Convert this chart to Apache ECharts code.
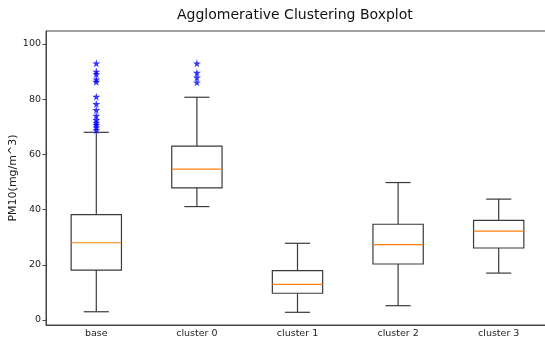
<!DOCTYPE html>
<html><head><meta charset="utf-8">
<script src="https://cdn.jsdelivr.net/npm/echarts@6/dist/echarts.min.js"></script>
<style>html,body{margin:0;padding:0;background:#fff}#c{width:545px;height:340px}</style>
</head><body><div id="c"></div>
<script>
var categories = ['base', 'cluster 0', 'cluster 1', 'cluster 2', 'cluster 3'];
var lowerWhisker = [3.0, 41.1, 2.8, 5.2, 17.0];
var q1 = [18.1, 47.9, 9.7, 20.3, 26.1];
var median = [28.0, 54.7, 12.9, 27.3, 32.2];
var q3 = [38.2, 63.0, 17.9, 34.7, 36.1];
var upperWhisker = [68.0, 80.7, 27.8, 49.8, 43.8];
var outliersBase = [93.0, 90.0, 89.1, 87.2, 86.3, 80.9, 78.3, 76.1, 74.0, 72.5, 71.5, 70.7, 69.8, 68.8];
var outliersCluster0 = [93.0, 89.6, 87.9, 86.1];
var yTicks = [0, 20, 40, 60, 80, 100];

var boxData = categories.map(function (c, i) {
  return [i, lowerWhisker[i], q1[i], median[i], q3[i], upperWhisker[i]];
});
var outlierData = [];
outliersBase.forEach(function (v) { outlierData.push([0, v]); });
outliersCluster0.forEach(function (v) { outlierData.push([1, v]); });

var lineColor = '#3a3a3a';
var chart = echarts.init(document.getElementById('c'), null, {renderer: 'canvas'});
chart.setOption({
  animation: false,
  title: {
    text: 'Agglomerative Clustering Boxplot',
    left: 172, top: 3,
    textStyle: {fontFamily: 'DejaVu Sans', fontSize: 14, fontWeight: 'normal', color: '#111'}
  },
  grid: {left: 46, right: -4, top: 31, bottom: 15, show: true, borderColor: '#444', borderWidth: 1,
         containLabel: false, outerBoundsMode: 'none'},
  xAxis: {
    type: 'category', data: categories, boundaryGap: true,
    axisLine: {onZero: false, lineStyle: {color: '#444'}},
    axisTick: {alignWithLabel: true, length: 3.5, lineStyle: {color: '#444'}},
    axisLabel: {fontFamily: 'DejaVu Sans', fontSize: 9.5, color: '#222', margin: 4},
    splitLine: {show: false}
  },
  yAxis: {
    type: 'value', min: -1.8, max: 104.7,
    name: 'PM10(mg/m^3)', nameLocation: 'middle', nameGap: 27, nameRotate: 90, nameMoveOverlap: false,
    nameTextStyle: {fontFamily: 'DejaVu Sans', fontSize: 11, color: '#222'},
    axisLine: {show: true, onZero: false, lineStyle: {color: '#444'}},
    axisTick: {show: true, length: 3.5, customValues: yTicks, lineStyle: {color: '#444'}},
    axisLabel: {fontFamily: 'DejaVu Sans', fontSize: 9.5, color: '#222', margin: 5, customValues: yTicks},
    splitLine: {show: false}
  },
  series: [
    {
      type: 'custom',
      data: boxData,
      encode: {x: 0, y: [1, 2, 3, 4, 5]},
      renderItem: function (params, api) {
        var idx = api.value(0);
        var band = api.size([1, 0])[0];
        var bw = band * 0.5, cw = band * 0.25;
        var pLo = api.coord([idx, api.value(1)]);
        var pQ1 = api.coord([idx, api.value(2)]);
        var pMed = api.coord([idx, api.value(3)]);
        var pQ3 = api.coord([idx, api.value(4)]);
        var pHi = api.coord([idx, api.value(5)]);
        var x = pQ1[0];
        var st = {stroke: lineColor, lineWidth: 1.2, fill: null};
        return {
          type: 'group',
          children: [
            {type: 'rect', shape: {x: x - bw / 2, y: pQ3[1], width: bw, height: pQ1[1] - pQ3[1]}, style: {stroke: lineColor, lineWidth: 1.2, fill: 'none'}},
            {type: 'line', shape: {x1: x, y1: pQ1[1], x2: x, y2: pLo[1]}, style: st},
            {type: 'line', shape: {x1: x, y1: pQ3[1], x2: x, y2: pHi[1]}, style: st},
            {type: 'line', shape: {x1: x - cw / 2, y1: pLo[1], x2: x + cw / 2, y2: pLo[1]}, style: st},
            {type: 'line', shape: {x1: x - cw / 2, y1: pHi[1], x2: x + cw / 2, y2: pHi[1]}, style: st},
            {type: 'line', shape: {x1: x - bw / 2, y1: pMed[1], x2: x + bw / 2, y2: pMed[1]}, style: {stroke: '#ff7f0e', lineWidth: 1.2}}
          ]
        };
      }
    },
    {
      type: 'scatter',
      data: outlierData,
      symbol: 'path://M50,0 L61,35 L98,35 L68,57 L79,91 L50,70 L21,91 L32,57 L2,35 L39,35 Z',
      symbolSize: 8,
      itemStyle: {color: '#0000ff'}
    }
  ]
});
</script></body></html>
